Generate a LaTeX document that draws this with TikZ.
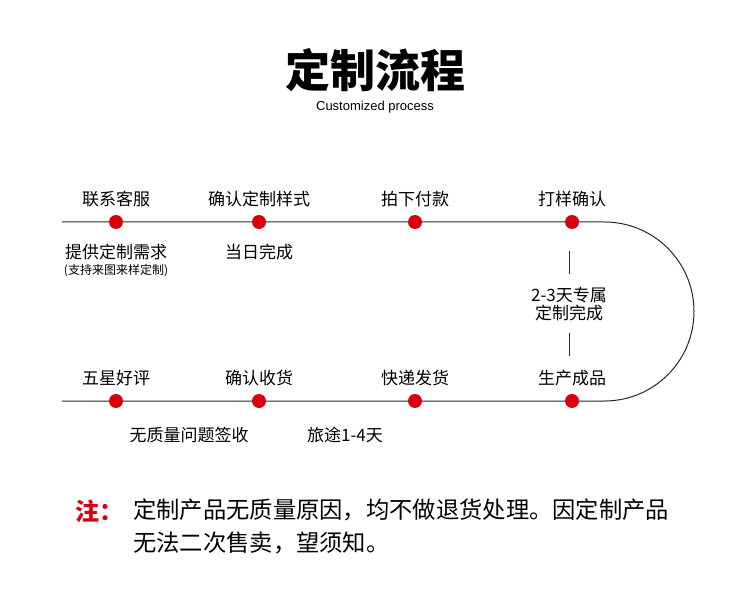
\documentclass[tikz,border=0pt]{standalone}
\usepackage{fontspec}
\usepackage{tikz}
\usetikzlibrary{positioning}
\setmainfont{Noto Sans CJK SC}
\newfontfamily\latinfont{Liberation Sans}
\definecolor{dotred}{HTML}{D9000D}

\begin{document}
\begin{tikzpicture}[x=1pt, y=-1pt,
        dot/.style={circle, fill=dotred, inner sep=0pt, minimum size=14pt},
        steplabel/.style={inner sep=0pt, font=\fontsize{17}{20}\selectfont},
        smalllabel/.style={inner sep=0pt, font=\fontsize{12}{14}\selectfont},
        flow/.style={line width=1pt, draw=black!85}
    ]
    \useasboundingbox (0,0) rectangle (750,604);

    \node[inner sep=0pt, font=\fontsize{45}{50}\selectfont\bfseries] (title) at (375,70) {定制流程};
    \node[inner sep=0pt, font=\latinfont\fontsize{13}{15}\selectfont] (subtitle) at (375,107) {Customized process};

    % top row
    \coordinate (tstart) at (62,222);
    \node[dot] (contact) at (116,222) {};
    \node[dot] (confirm) at (259,222) {};
    \node[dot] (order) at (415,222) {};
    \node[dot] (sample) at (572,222) {};
    \coordinate (tend) at (604.5,222);

    % bottom row
    \coordinate (bstart) at (62,401);
    \node[dot] (review) at (116,401) {};
    \node[dot] (receive) at (259,401) {};
    \node[dot] (ship) at (415,401) {};
    \node[dot] (produce) at (572,401) {};

    \draw[flow] (tstart) -- (contact) -- (confirm) -- (order) -- (sample) -- (tend)
        arc[start angle=-90, end angle=90, radius=89.5] -- (produce) -- (ship) -- (receive) -- (review) -- (bstart);

    \node[steplabel, above=8pt of contact] (contactlbl) {联系客服};
    \node[steplabel, above=8pt of confirm] (confirmlbl) {确认定制样式};
    \node[steplabel, above=8pt of order] (orderlbl) {拍下付款};
    \node[steplabel, above=8pt of sample] (samplelbl) {打样确认};

    \node[steplabel, above=8pt of review] (reviewlbl) {五星好评};
    \node[steplabel, above=8pt of receive] (receivelbl) {确认收货};
    \node[steplabel, above=8pt of ship] (shiplbl) {快递发货};
    \node[steplabel, above=8pt of produce] (producelbl) {生产成品};

    \node[steplabel, below=15pt of contact] (needs) {提供定制需求};
    \node[smalllabel, below=4pt of needs] (needsnote) {(支持来图来样定制)};
    \node[steplabel, below=15pt of confirm] (sameday) {当日完成};

    \node[steplabel, align=center, font=\fontsize{17}{18}\selectfont] (custom) at (569,304) {2-3天专属\\定制完成};
    \coordinate (vtop) at (569,251);
    \coordinate (vbot) at (569,356);
    \draw[flow] (vtop) -- ([yshift=13pt]custom.north);
    \draw[flow] ([yshift=-12pt]custom.south) -- (vbot);

    \node[steplabel] (nodefect) at (189,435) {无质量问题签收};
    \node[steplabel] (transit) at (345,435) {旅途1-4天};

    % note
    \node[inner sep=0pt, anchor=west, text=dotred, font=\fontsize{24}{30}\selectfont\bfseries] (notehead) at (75,511) {注：};
    \node[inner sep=0pt, anchor=north west, align=left, font=\fontsize{23.3}{33}\selectfont] (notetext) at (133,499) {定制产品无质量原因，均不做退货处理。因定制产品\\无法二次售卖，望须知。};
\end{tikzpicture}
\end{document}
